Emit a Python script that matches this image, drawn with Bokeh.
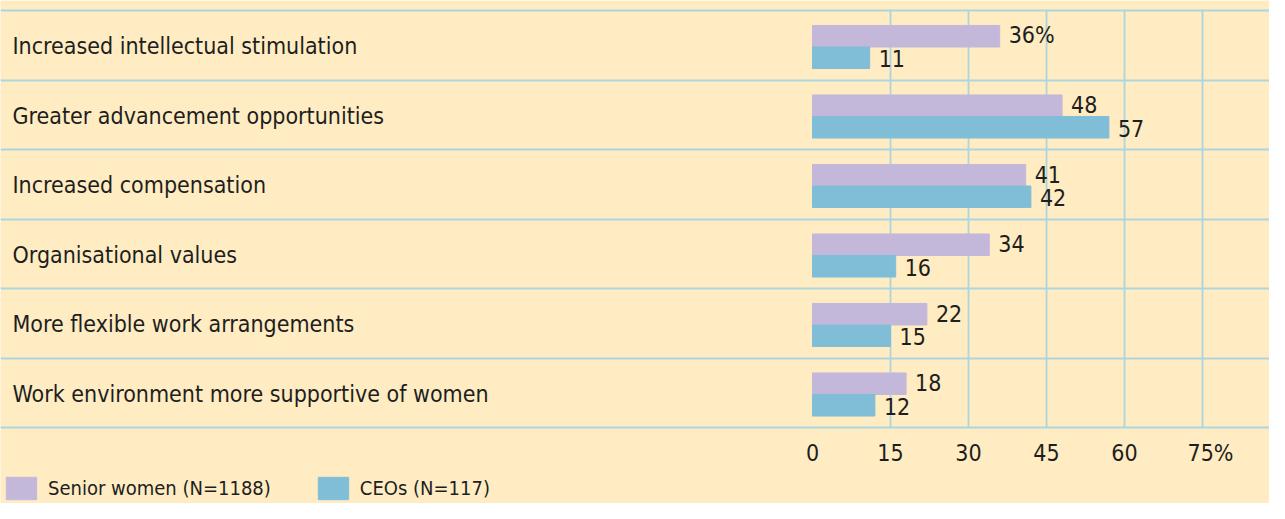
from bokeh.plotting import figure
from bokeh.models import ColumnDataSource, Range1d, Legend, LegendItem
from bokeh.core.properties import value
from bokeh.embed import file_html
from bokeh.resources import INLINE

categories = [
    "Increased intellectual stimulation",
    "Greater advancement opportunities",
    "Increased compensation",
    "Organisational values",
    "More flexible work arrangements",
    "Work environment more supportive of women",
]
senior_women = [36, 48, 41, 34, 22, 18]
ceos = [11, 57, 42, 16, 15, 12]
x_ticks = [0, 15, 30, 45, 60, 75]
x_tick_labels = ["0", "15", "30", "45", "60", "75%"]
series_names = ["Senior women (N=1188)", "CEOs (N=117)"]

BG = "#ffecc2"
LAV = "#c4b8da"
BLUE = "#80bed8"
GRID = "#abd5df"
TXT = "#1e1e1e"
FONT = "DejaVu Sans Condensed, Liberation Sans Narrow, sans-serif"
FS = "23px"

W, H = 1269, 503
n = len(categories)
# pixel layout of the frame (the frame fills the whole figure)
zero_px, px75 = 812, 390
row_top, row_bot = 10, 427
px_row = (row_bot - row_top) / n
x_start = -zero_px * 75 / px75
x_end = (W - zero_px) * 75 / px75
y_top = -row_top / px_row
y_bot = n + (H - row_bot) / px_row

rows = list(range(n))
sw_lab = [f"{v}%" if i == 0 else str(v) for i, v in enumerate(senior_women)]
ce_lab = [str(v) for v in ceos]

src = ColumnDataSource(dict(cat=categories, cy=[r + 0.5 for r in rows],
                            sw=senior_women, ce=ceos,
                            sw_y=[r + 0.37 for r in rows],
                            ce_y=[r + 0.68 for r in rows],
                            sw_lab=sw_lab, ce_lab=ce_lab,
                            xs=[x_start] * n))
# a trailing "%" hangs to the right of the centred number
tick_src = ColumnDataSource(dict(x=x_ticks, lab=x_tick_labels,
                                 y=[n] * len(x_ticks),
                                 xo=[8 if s.endswith("%") else 0 for s in x_tick_labels]))

p = figure(width=W, height=H, output_backend="svg", toolbar_location=None,
           x_range=Range1d(x_start, x_end), y_range=Range1d(y_bot, y_top),
           x_axis_location=None, y_axis_location=None, min_border=0,
           background_fill_color=BG, border_fill_color=BG, outline_line_color=None)
p.grid.visible = False

# grid: vertical lines at the ticks (not at 0), horizontal row separators
grid_src = ColumnDataSource(dict(x=x_ticks[1:], y0=[0] * (len(x_ticks) - 1),
                                 y1=[n] * (len(x_ticks) - 1)))
p.segment(x0="x", y0="y0", x1="x", y1="y1", source=grid_src,
          line_color=GRID, line_width=1.8)
p.hspan(y=list(range(n + 1)), line_color=GRID, line_width=2)

r1 = p.hbar(y="sw_y", right="sw", left=0, height=0.31, color=LAV, source=src)
r2 = p.hbar(y="ce_y", right="ce", left=0, height=0.31, color=BLUE, source=src)

common = dict(text_font=value(FONT), text_font_size=FS, text_color=TXT,
              text_baseline="middle")
p.text(x="sw", y="sw_y", text="sw_lab", x_offset=9, y_offset=-1, source=src, **common)
p.text(x="ce", y="ce_y", text="ce_lab", x_offset=9, y_offset=1, source=src, **common)
p.text(x="xs", y="cy", text="cat", x_offset=12, y_offset=1, source=src, **common)
# x-axis tick labels
p.text(x="x", y="y", text="lab", x_offset="xo", y_offset=25, text_align="center",
       source=tick_src, **common)

legend = Legend(items=[LegendItem(label=series_names[0], renderers=[r1]),
                       LegendItem(label=series_names[1], renderers=[r2])],
                orientation="horizontal", location=(2, 1),
                background_fill_alpha=0, border_line_color=None,
                padding=0, margin=0, spacing=43, label_standoff=8,
                glyph_width=38, glyph_height=28,
                label_text_font=FONT, label_text_font_size="20px",
                label_text_color=TXT, label_height=22)
p.add_layout(legend, "center")

open("out.html", "w").write(file_html(p, INLINE))
